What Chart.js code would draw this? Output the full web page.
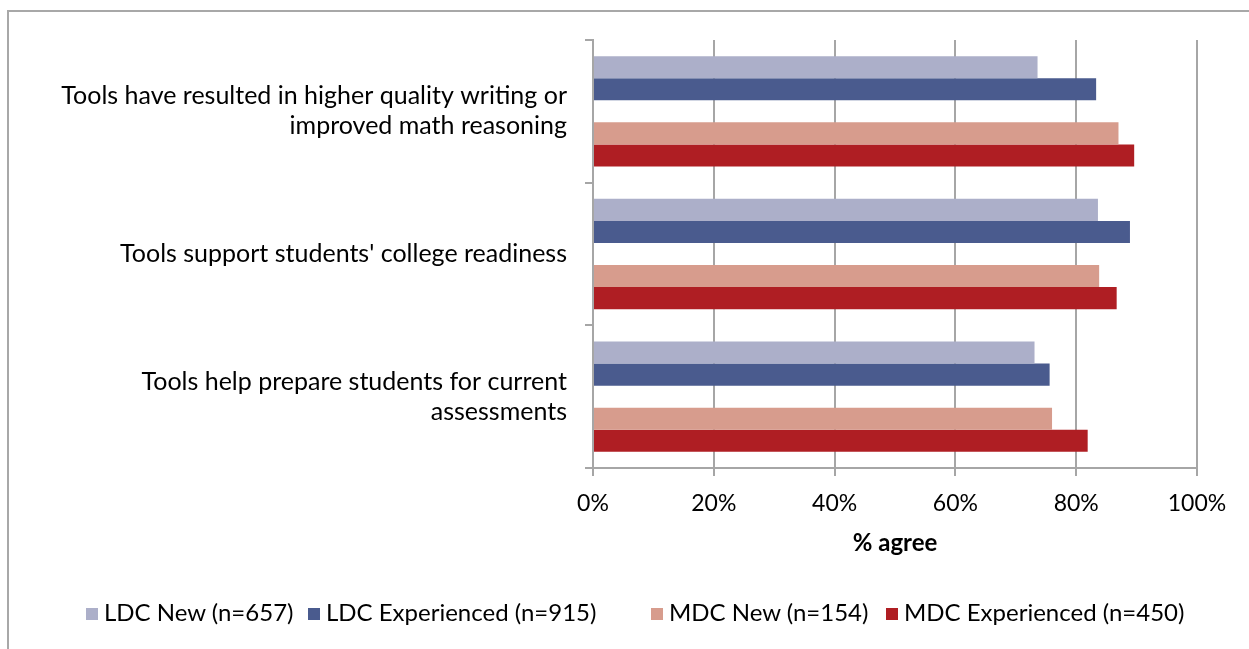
<!DOCTYPE html>
<html lang="en">
<head>
  <meta charset="UTF-8">
  <title>Tools: % agree</title>
  <style>
    body {
      margin: 0;
      background: #fff;
      overflow: hidden;
      font-family: Lato, sans-serif;
    }
    #frame {
      position: absolute;
      left: 7px;
      top: 10px;
      width: 1400px;
      height: 800px;
      border-top: 2px solid #a8a8a8;
      border-left: 2px solid #a8a8a8;
    }
    #chart {
      position: absolute;
      left: 0;
      top: 0;
    }
    #legend {
      position: absolute;
      top: 597px;
      left: 0;
      width: 1249px;
      height: 30px;
    }
    .item {
      position: absolute;
      top: 0;
      font-size: 24px;
      line-height: 30px;
      color: #000;
      white-space: nowrap;
    }
    .item .box {
      display: inline-block;
      width: 12px;
      height: 12px;
      margin-right: 6px;
      vertical-align: 1px;
    }
  </style>
</head>
<body>
  <div id="frame"></div>
  <canvas id="chart" width="1249" height="649"></canvas>
  <div id="legend"></div>

  <script src="https://cdn.jsdelivr.net/npm/chart.js"></script>
  <script>
    // data (% agree)
    const categories = [
      ['Tools have resulted in higher quality writing or', 'improved math reasoning'],
      "Tools support students' college readiness",
      ['Tools help prepare students for current', 'assessments']
    ];
    const seriesNames = ['LDC New (n=657)', 'LDC Experienced (n=915)', 'MDC New (n=154)', 'MDC Experienced (n=450)'];
    const seriesColors = ['#acafc9', '#4a5b8e', '#d79c8d', '#af1e23'];
    const ldcNew = [73.6, 83.6, 73.1];
    const ldcExperienced = [83.3, 88.9, 75.6];
    const mdcNew = [87.0, 83.8, 76.0];
    const mdcExperienced = [89.6, 86.7, 81.9];
    const xTicks = [0, 20, 40, 60, 80, 100];

    const seriesValues = [ldcNew, ldcExperienced, mdcNew, mdcExperienced];

    // the original leaves an empty slot between the LDC and MDC pairs
    const datasets = [];
    seriesValues.forEach(function (values, i) {
      if (i === 2) {
        datasets.push({ label: '', data: categories.map(() => null), backgroundColor: 'rgba(0,0,0,0)' });
      }
      datasets.push({
        label: seriesNames[i],
        data: values,
        backgroundColor: seriesColors[i],
        borderWidth: 0
      });
    });

    const gray = '#a6a6a6';

    new Chart(document.getElementById('chart'), {
      type: 'bar',
      data: { labels: categories, datasets: datasets },
      options: {
        indexAxis: 'y',
        responsive: false,
        animation: false,
        categoryPercentage: 0.773,
        barPercentage: 1.0,
        layout: { padding: { top: 40, right: 52, left: 0, bottom: 81 } },
        plugins: {
          legend: { display: false },
          tooltip: { enabled: false }
        },
        scales: {
          x: {
            min: 0,
            max: 100,
            afterBuildTicks: function (scale) {
              scale.ticks = xTicks.map(v => ({ value: v }));
            },
            afterFit: function (scale) { scale.height = 100; },
            grid: { color: gray, lineWidth: 2, tickLength: 8, drawTicks: true },
            border: { color: gray, width: 2 },
            ticks: {
              color: '#000',
              font: { family: 'Lato', size: 23 },
              padding: 14,
              maxRotation: 0,
              callback: function (v) { return v + '%'; }
            },
            title: {
              display: true,
              text: '% agree',
              color: '#000',
              font: { family: 'Lato', size: 24, weight: 'bold' },
              padding: { top: 6, bottom: 10 }
            }
          },
          y: {
            afterFit: function (scale) {
              scale.width = 593;
              scale.paddingTop = 0;
              scale.paddingBottom = 0;
            },
            grid: { offset: true, drawOnChartArea: false, drawTicks: true, tickLength: 8, color: gray, lineWidth: 2 },
            border: { color: gray, width: 2 },
            ticks: {
              color: '#000',
              font: { family: 'Lato', size: 25, lineHeight: 1.2 },
              padding: 18
            }
          }
        }
      }
    });

    // legend laid out like the original, with the wider gap before the MDC pair
    const legendLeft = [86, 308, 651, 886];
    const legend = document.getElementById('legend');
    seriesNames.forEach(function (name, i) {
      const item = document.createElement('div');
      item.className = 'item';
      item.style.left = legendLeft[i] + 'px';
      const box = document.createElement('span');
      box.className = 'box';
      box.style.background = seriesColors[i];
      item.appendChild(box);
      item.appendChild(document.createTextNode(name));
      legend.appendChild(item);
    });
  </script>
</body>
</html>
